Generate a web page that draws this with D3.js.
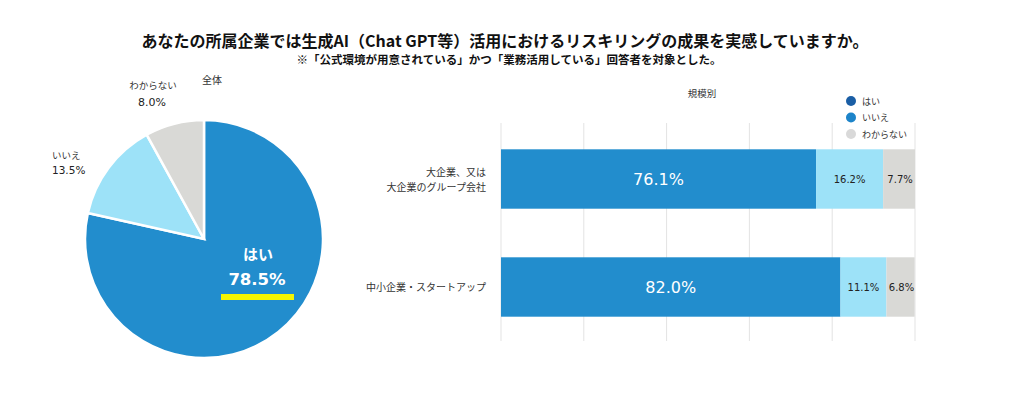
<!DOCTYPE html>
<html><head><meta charset="utf-8">
<script src="https://cdn.jsdelivr.net/npm/d3@7"></script>
<style>
body{margin:0;background:#fff;}
svg{display:block;}
.jp{font-family:"Noto Sans CJK JP","Noto Sans",sans-serif;}
.num{font-family:"DejaVu Sans",Verdana,sans-serif;}
</style></head>
<body>
<svg id="c" width="1033" height="397"></svg>
<script>
const titleText = "あなたの所属企業では生成AI（Chat GPT等）活用におけるリスキリングの成果を実感していますか。";
const subtitleText = "※「公式環境が用意されている」かつ「業務活用している」回答者を対象とした。";
const answers = ["はい", "いいえ", "わからない"];
const pieValues = [78.5, 13.5, 8.0];
const barCategories = [["大企業、又は", "大企業のグループ会社"], ["中小企業・スタートアップ"]];
const barYes = [76.1, 82.0];
const barNo = [16.2, 11.1];
const barDk = [7.7, 6.8];
const xTicks = [0, 20, 40, 60, 80, 100];

const svg = d3.select("#c");
const segColors = ["#228dcd", "#9de2f8", "#d9d9d6"];
const legendColors = ["#1a5ea5", "#1d84c9", "#d9d9d9"];

// Titles
svg.append("text").attr("class","jp").attr("x",505).attr("y",47).attr("text-anchor","middle")
  .attr("font-size",16).attr("font-weight","bold").attr("fill","#111").text(titleText);
svg.append("text").attr("class","jp").attr("x",509).attr("y",64).attr("text-anchor","middle")
  .attr("font-size",11.5).attr("font-weight","bold").attr("fill","#111").text(subtitleText);

// Pie
const cx = 204, cy = 239, R = 119;
const pieData = d3.pie().sort(null).value(d => d)(pieValues);
const arc = d3.arc().innerRadius(0).outerRadius(R);
const pg = svg.append("g").attr("transform", `translate(${cx},${cy})`);
pg.selectAll("path").data(pieData).enter().append("path")
  .attr("d", arc).attr("fill", (d,i) => segColors[i])
  .attr("stroke", "#fff").attr("stroke-width", 2.5);

svg.append("text").attr("class","jp").attr("x",212).attr("y",84).attr("text-anchor","middle")
  .attr("font-size",10).attr("fill","#333").text("全体");
// outside labels
svg.append("text").attr("class","jp").attr("x",153).attr("y",89).attr("text-anchor","middle")
  .attr("font-size",9.5).attr("fill","#333").text(answers[2]);
svg.append("text").attr("class","num").attr("x",152).attr("y",106).attr("text-anchor","middle")
  .attr("font-size",11).attr("fill","#222").text(pieValues[2].toFixed(1)+"%");
svg.append("text").attr("class","jp").attr("x",52).attr("y",159).attr("text-anchor","start")
  .attr("font-size",9.5).attr("fill","#333").text(answers[1]);
svg.append("text").attr("class","num").attr("x",52).attr("y",174).attr("text-anchor","start")
  .attr("font-size",10.5).attr("fill","#222").text(pieValues[1].toFixed(1)+"%");
// inside label
svg.append("text").attr("class","jp").attr("x",258).attr("y",260).attr("text-anchor","middle")
  .attr("font-size",15).attr("font-weight","bold").attr("fill","#fff").text(answers[0]);
svg.append("text").attr("class","num").attr("x",257).attr("y",285).attr("text-anchor","middle")
  .attr("font-size",16.5).attr("font-weight","bold").attr("fill","#fff").text(pieValues[0].toFixed(1)+"%");
svg.append("rect").attr("x",221).attr("y",294).attr("width",73).attr("height",6).attr("fill","#f5f500");

// Bar chart
const x = d3.scaleLinear().domain([0,100]).range([501,915]);
const y = d3.scaleBand().domain(d3.range(barCategories.length)).range([125,341]).paddingInner(0.45).paddingOuter(0.225);

const grid = svg.append("g");
grid.selectAll("line").data(xTicks).enter().append("line")
  .attr("x1", d => x(d)).attr("x2", d => x(d)).attr("y1", 123).attr("y2", 341)
  .attr("stroke", "#e3e3e3").attr("stroke-width", 1);

svg.append("text").attr("class","jp").attr("x",702).attr("y",97).attr("text-anchor","middle")
  .attr("font-size",9.5).attr("fill","#333").text("規模別");

const series = [barYes, barNo, barDk];
const stacked = barCategories.map((c,i) => {
  let acc = 0;
  return series.map((s,k) => { const o = {i, k, v: s[i], x0: acc, x1: acc + s[i]}; acc += s[i]; return o; });
}).flat();

svg.append("g").selectAll("rect").data(stacked).enter().append("rect")
  .attr("x", d => x(d.x0)).attr("width", d => x(Math.min(d.x1,100)) - x(d.x0))
  .attr("y", d => y(d.i)).attr("height", y.bandwidth())
  .attr("fill", d => segColors[d.k]);

svg.append("g").selectAll("text").data(stacked).enter().append("text")
  .attr("class","num")
  .attr("x", d => x((d.x0 + Math.min(d.x1,100))/2) + (d.k===2 ? 1 : 0))
  .attr("y", d => y(d.i) + y.bandwidth()/2 + (d.k===0 ? 6 : 4))
  .attr("text-anchor","middle")
  .attr("font-size", d => d.k===0 ? 16 : 10)
  .attr("fill", d => d.k===0 ? "#fff" : "#222")
  .text(d => d.v.toFixed(1) + "%");

// category labels
barCategories.forEach((lines, i) => {
  const cyc = y(i) + y.bandwidth()/2;
  const lh = 15;
  lines.forEach((t, j) => {
    svg.append("text").attr("class","jp").attr("x",486)
      .attr("y", cyc + (j - (lines.length-1)/2) * lh + 4)
      .attr("text-anchor","end").attr("font-size",10).attr("fill","#333").text(t);
  });
});

// legend
answers.forEach((a, i) => {
  svg.append("circle").attr("cx",851).attr("cy",101 + i*16.5).attr("r",5).attr("fill",legendColors[i]);
  svg.append("text").attr("class","jp").attr("x",862).attr("y",104.5 + i*16.5)
    .attr("font-size",9).attr("fill","#333").text(a);
});
</script>
</body></html>
